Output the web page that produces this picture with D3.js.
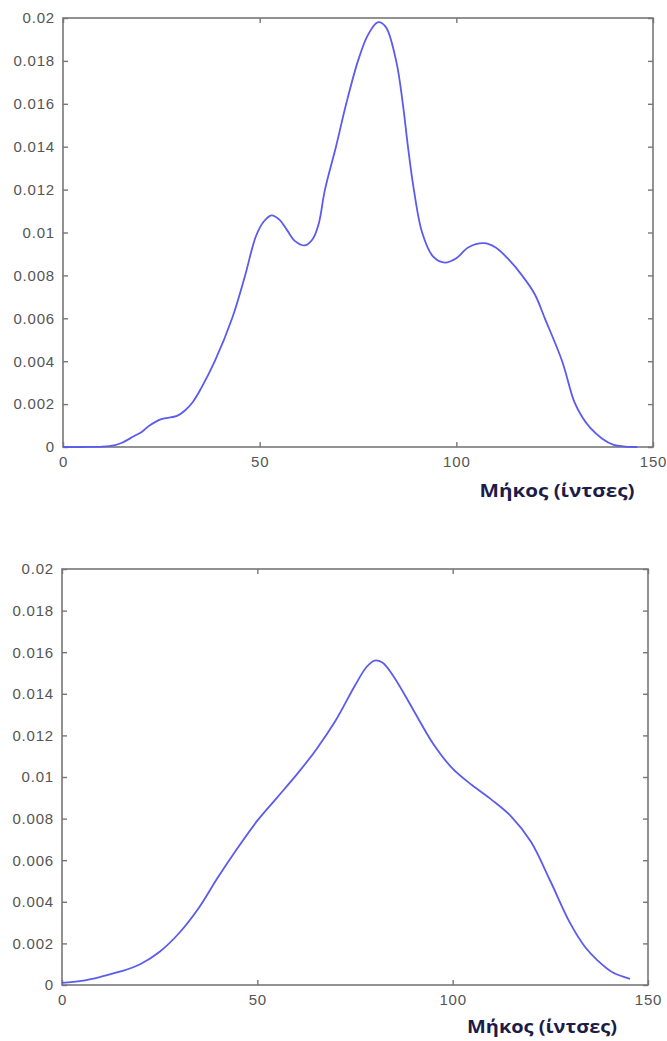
<!DOCTYPE html>
<html>
<head>
<meta charset="utf-8">
<script src="https://cdn.jsdelivr.net/npm/d3@7"></script>
<style>
  html, body { margin: 0; padding: 0; background: #fff; }
  svg { display: block; }
</style>
</head>
<body>
<svg id="chart" width="667" height="1041"></svg>
<script>
// Density curves of length (inches) — upper: narrow kernel, lower: wide kernel
const topLength  = [0, 5, 10, 13, 15, 18, 20, 22, 25, 29, 31, 33, 35, 38.6, 43, 46.3, 49, 51, 53, 55, 57, 59, 61.5, 63.5, 65, 66.6, 69.4, 72, 75, 77.5, 80, 82, 84.7, 86.4, 87.7, 89.2, 91.3, 94, 97, 100, 103, 107, 110, 113, 116.7, 120, 122.5, 126.9, 130, 132, 134, 137, 140, 143, 146];
const topDensity = [0, 0, 0.00002, 0.00008, 0.0002, 0.0005, 0.0007, 0.001, 0.0013, 0.00145, 0.0017, 0.0021, 0.0027, 0.004, 0.006, 0.008, 0.0098, 0.0105, 0.0108, 0.0106, 0.0101, 0.0096, 0.0094, 0.0097, 0.0104, 0.012, 0.014, 0.016, 0.018, 0.0192, 0.0198, 0.0196, 0.018, 0.016, 0.014, 0.012, 0.01, 0.0089, 0.0086, 0.0088, 0.0093, 0.0095, 0.0093, 0.0088, 0.008, 0.0071, 0.006, 0.004, 0.0021, 0.0014, 0.0009, 0.0004, 0.0001, 0.00002, 0];

const bottomLength  = [0, 5, 10, 15, 20, 25, 30, 35, 40, 45, 50, 55, 60, 65, 70, 75, 78, 80, 82, 85, 90, 95, 100, 105, 110, 115, 120, 125, 130, 134, 137, 141, 145.4];
const bottomDensity = [0.0001, 0.0002, 0.0004, 0.00065, 0.001, 0.0016, 0.0025, 0.0037, 0.0052, 0.0066, 0.0079, 0.009, 0.0101, 0.0113, 0.0127, 0.0144, 0.0153, 0.0156, 0.0155, 0.0148, 0.0132, 0.0116, 0.0104, 0.0096, 0.0089, 0.0081, 0.0069, 0.005, 0.003, 0.0018, 0.0012, 0.0006, 0.0003];

const xTicks = [0, 50, 100, 150];
const yTicks = [0, 0.002, 0.004, 0.006, 0.008, 0.01, 0.012, 0.014, 0.016, 0.018, 0.02];
const xLabel = "Μήκος (ίντσες)";

const svg = d3.select("#chart");

const panels = [
  { xs: topLength, ys: topDensity, left: 63, right: 653, top: 18, bottom: 447, labelX: 557, labelY: 497, labelW: 155 },
  { xs: bottomLength, ys: bottomDensity, left: 62, right: 648, top: 569, bottom: 985, labelX: 542, labelY: 1033, labelW: 150 }
];

const frameColor = "#777";
const tickLen = 5;

panels.forEach(p => {
  const x = d3.scaleLinear().domain([0, 150]).range([p.left, p.right]);
  const y = d3.scaleLinear().domain([0, 0.02]).range([p.bottom, p.top]);
  const g = svg.append("g");

  // Box-style frame with inward ticks on every side
  g.append("rect")
    .attr("x", p.left).attr("y", p.top)
    .attr("width", p.right - p.left).attr("height", p.bottom - p.top)
    .attr("fill", "none").attr("stroke", frameColor).attr("stroke-width", 1.6);

  const yLeft = d3.axisLeft(y).tickValues(yTicks).tickSize(-tickLen).tickPadding(8)
    .tickFormat(d => d === 0 ? "0" : d3.format("")(+d.toFixed(3)));
  const yRight = d3.axisRight(y).tickValues(yTicks).tickSize(-tickLen).tickFormat("");
  const xBottom = d3.axisBottom(x).tickValues(xTicks).tickSize(-tickLen).tickPadding(9).tickFormat(d3.format("d"));
  const xTop = d3.axisTop(x).tickValues(xTicks).tickSize(-tickLen).tickFormat("");

  const axes = [
    g.append("g").attr("transform", `translate(${p.left},0)`).call(yLeft),
    g.append("g").attr("transform", `translate(${p.right},0)`).call(yRight),
    g.append("g").attr("transform", `translate(0,${p.bottom})`).call(xBottom),
    g.append("g").attr("transform", `translate(0,${p.top})`).call(xTop)
  ];
  axes.forEach(a => {
    a.select(".domain").remove();
    a.selectAll(".tick line").attr("stroke", frameColor).attr("stroke-width", 1.4);
    a.selectAll(".tick text")
      .attr("fill", "#555")
      .style("font-family", "'Liberation Sans', Arial, sans-serif")
      .style("font-size", "15px")
      .style("letter-spacing", "0.8px");
  });

  const line = d3.line()
    .x((d, i) => x(p.xs[i]))
    .y(d => y(d))
    .curve(d3.curveCatmullRom.alpha(0.5));

  g.append("path")
    .datum(p.ys)
    .attr("d", line)
    .attr("fill", "none")
    .attr("stroke", "#5b5bef")
    .attr("stroke-width", 1.8)
    .attr("stroke-linejoin", "round");

  g.append("text")
    .attr("x", p.labelX).attr("y", p.labelY)
    .attr("text-anchor", "middle")
    .attr("textLength", p.labelW)
    .attr("lengthAdjust", "spacingAndGlyphs")
    .attr("fill", "#1c1c48")
    .style("font-family", "'Open Sans', 'Noto Sans', sans-serif")
    .style("font-weight", "bold")
    .style("font-size", "18px")
    .text(xLabel);
});
</script>
</body>
</html>
